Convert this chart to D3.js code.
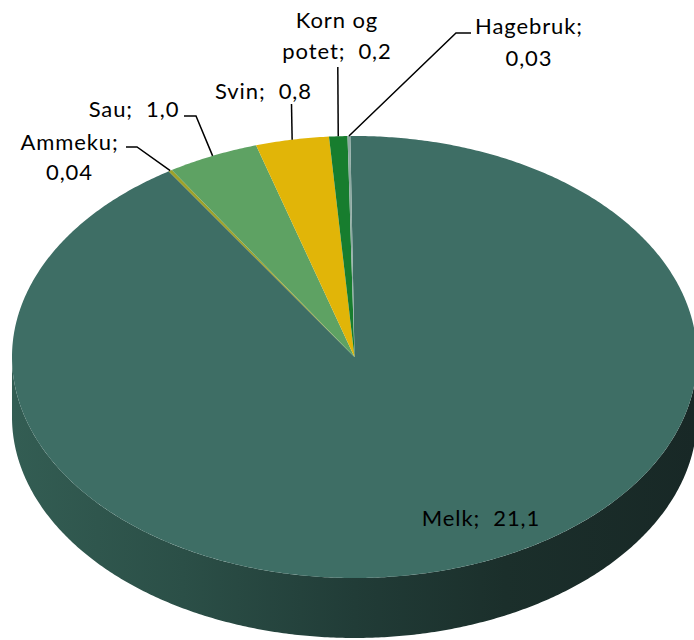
<!DOCTYPE html>
<html>
<head>
<meta charset="utf-8">
<script src="https://cdn.jsdelivr.net/npm/d3@7/dist/d3.min.js"></script>
<style>
  html, body { margin: 0; padding: 0; background: #ffffff; }
  svg { display: block; }
  text { font-family: Lato, "Liberation Sans", sans-serif; font-size: 22px; letter-spacing: 0.9px; fill: #000; white-space: pre; }
</style>
</head>
<body>
<svg id="chart" width="694" height="640"></svg>
<script>
// Production by branch (drawn clockwise from the top)
const categories = ["Melk", "Ammeku", "Sau", "Svin", "Korn og potet", "Hagebruk"];
const values = [21.1, 0.04, 1.0, 0.8, 0.2, 0.03];
const valueLabels = ["21,1", "0,04", "1,0", "0,8", "0,2", "0,03"];
const colors = ["#3e6e65", "#9ea12a", "#5ea263", "#e1b508", "#177d2e", "#8faaa3"];

const W = 694, H = 640;
const cx = 354.5, cy = 357;      // centre of the top face
const rx = 342.5, ry = 221;      // radii of the tilted top face
const depth = 60;                // thickness of the disc

const svg = d3.select("#chart");
const deg = Math.PI / 180;

const pie = d3.pie().sort(null).value(d => d)
  .startAngle(-0.7 * deg).endAngle(359.3 * deg);
const arcs = pie(values);

// point on the tilted rim for a pie angle (clockwise from 12 o'clock)
const rim = (a, dy = 0) => [cx + rx * Math.sin(a), cy - ry * Math.cos(a) + dy];

function rimPoints(a0, a1, dy = 0) {
  const n = Math.max(2, Math.ceil(Math.abs(a1 - a0) / (0.5 * deg)));
  return d3.range(n + 1).map(i => rim(a0 + (a1 - a0) * i / n, dy));
}

const line = d3.line();

// side wall gradient
const defs = svg.append("defs");
const grad = defs.append("linearGradient")
  .attr("id", "side").attr("gradientUnits", "userSpaceOnUse")
  .attr("x1", cx - rx).attr("x2", cx + rx).attr("y1", 0).attr("y2", 0);
[[0, "#335d53"], [0.25, "#2b4f47"], [0.5, "#213c37"], [0.72, "#1b2f2b"], [1, "#182826"]]
  .forEach(([o, c]) => grad.append("stop").attr("offset", o).attr("stop-color", c));

// side wall: front half of the rim, from the right edge to the left edge
arcs.forEach(d => {
  const a0 = Math.max(d.startAngle, 90 * deg);
  const a1 = Math.min(d.endAngle, 270 * deg);
  if (a1 <= a0) return;
  const top = rimPoints(a0, a1);
  const bottom = rimPoints(a1, a0, depth);
  svg.append("path")
    .attr("d", line(top.concat(bottom)) + "Z")
    .attr("fill", "url(#side)");
});

// top face slices
svg.append("g").selectAll("path")
  .data(arcs)
  .join("path")
  .attr("d", d => line([[cx, cy]].concat(rimPoints(d.startAngle, d.endAngle))) + "Z")
  .attr("fill", (d, i) => colors[i]);

// labels: text lines and leader bends laid out around the top
const labelLayout = [
  { lines: ["Melk;  21,1"], x: 481, y: [526], leader: null },
  { lines: ["Ammeku;", "0,04"], x: 69.5, y: [150, 180], leader: [[126, 147], [137, 147]] },
  { lines: ["Sau;  1,0"], x: 134, y: [117], leader: [[184, 116], [196, 116]] },
  { lines: ["Svin;  0,8"], x: 263.5, y: [99], leader: [[291.5, 104]] },
  { lines: ["Korn og", "potet;  0,2"], x: 337, y: [28, 59], leader: [[337.8, 67]] },
  { lines: ["Hagebruk;", "0,03"], x: 529, y: [34, 66], leader: [[471, 33], [456, 33]] }
];

const lab = svg.append("g");
arcs.forEach((d, i) => {
  const L = labelLayout[i];
  if (L.leader) {
    const mid = (d.startAngle + d.endAngle) / 2;
    lab.append("path")
      .attr("d", line(L.leader.concat([rim(mid)])))
      .attr("fill", "none").attr("stroke", "#000").attr("stroke-width", 1.5);
  }
  L.lines.forEach((t, k) => {
    lab.append("text")
      .attr("x", L.x).attr("y", L.y[k])
      .attr("text-anchor", "middle")
      .text(t);
  });
});
</script>
</body>
</html>
